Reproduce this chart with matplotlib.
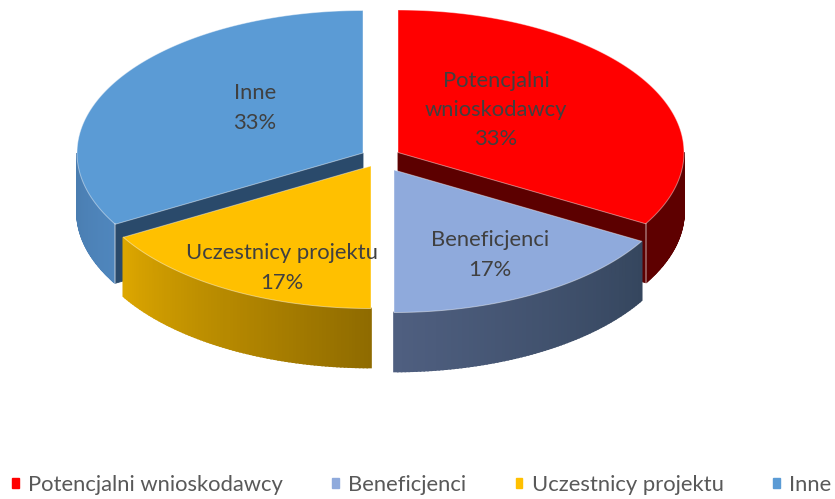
import numpy as np
import matplotlib
matplotlib.use('Agg')
import matplotlib.pyplot as plt
from matplotlib.patches import Patch
from matplotlib.colors import to_rgb

kategorie = ['Potencjalni wnioskodawcy', 'Beneficjenci', 'Uczestnicy projektu', 'Inne']
etykiety = ['Potencjalni\nwnioskodawcy', 'Beneficjenci', 'Uczestnicy projektu', 'Inne']
wartosci = [2, 1, 1, 2]

kolory = ['#ff0000', '#8faadc', '#ffc000', '#5b9bd5']
wewn = ['#5c0000', '#33475f', '#7f6000', '#2a4a6b']
sciana_start = ['#5e0000', '#35465e', '#8f6b00', '#4f86bd']
sciana_stop = ['#5e0000', '#4f5f80', '#dca600', '#4a7db0']

srodki = [(398, 152.5), (394, 170), (371, 166), (363, 153)]
pozycje_tekstu = [(496, 110), (490, 255), (282, 268), (255, 108)]

rx = 286
ry = 142.5
h = 59

plt.rcParams['font.family'] = ['Lato', 'DejaVu Sans']
fig = plt.figure(figsize=(8.35, 4.99), dpi=100)
ax = fig.add_axes([0, 0, 1, 1])
ax.set_xlim(0, 835)
ax.set_ylim(499, 0)
ax.axis('off')

ulamki = np.array(wartosci) / np.sum(wartosci)
konce = np.cumsum(ulamki) * 2 * np.pi
poczatki = konce - ulamki * 2 * np.pi


def luk(c, t0, t1, n=120):
    t = np.linspace(t0, t1, n)
    return c[0] + rx * np.sin(t), c[1] - ry * np.cos(t)


def wycinek(i):
    c = srodki[i]
    t0, t1 = poczatki[i], konce[i]
    # sciana zewnetrzna, widoczna tylko z przodu
    a = max(t0, np.pi / 2)
    b = min(t1, 3 * np.pi / 2)
    if b > a:
        x, y = luk(c, a, b, 80)
        k0 = np.array(to_rgb(sciana_start[i]))
        k1 = np.array(to_rgb(sciana_stop[i]))
        for j in range(len(x) - 1):
            f = j / (len(x) - 2)
            kol = k0 * (1 - f) + k1 * f
            ax.fill([x[j], x[j + 1], x[j + 1], x[j]],
                    [y[j], y[j + 1], y[j + 1] + h, y[j] + h],
                    color=kol, lw=1.2)
    # sciana wewnetrzna
    for t in (t0, t1):
        if (i == 0 and t == t1) or (i == 3 and t == t0):
            x, y = luk(c, t, t, 1)
            ax.fill([c[0], x[0], x[0], c[0]], [c[1], y[0], y[0] + h, c[1] + h],
                    color=wewn[i], lw=0.6)
            ax.plot([x[0], x[0]], [y[0], y[0] + h], color='white', alpha=0.4, lw=1.2)
    # gorna powierzchnia
    x, y = luk(c, t0, t1)
    ax.fill(np.r_[c[0], x], np.r_[c[1], y], facecolor=kolory[i],
            edgecolor='#ffffff70', lw=0.7, joinstyle='round')


for i in [0, 3, 1, 2]:
    wycinek(i)

for i in range(len(wartosci)):
    ax.text(pozycje_tekstu[i][0], pozycje_tekstu[i][1],
            etykiety[i] + '\n' + '%.0f%%' % (ulamki[i] * 100),
            ha='center', va='center', color='#404040', fontsize=15.8,
            linespacing=1.58)

uchwyty = [Patch(color=k) for k in kolory]
leg = ax.legend(uchwyty, kategorie, ncol=4, loc='lower left',
                bbox_to_anchor=(12 / 835, 4 / 499), frameon=False, fontsize=15.8,
                handlelength=0.3, handleheight=0.3, handletextpad=0.42,
                columnspacing=2.26, borderpad=0, borderaxespad=0,
                labelcolor='#595959')

fig.savefig('out.png', dpi=100)
